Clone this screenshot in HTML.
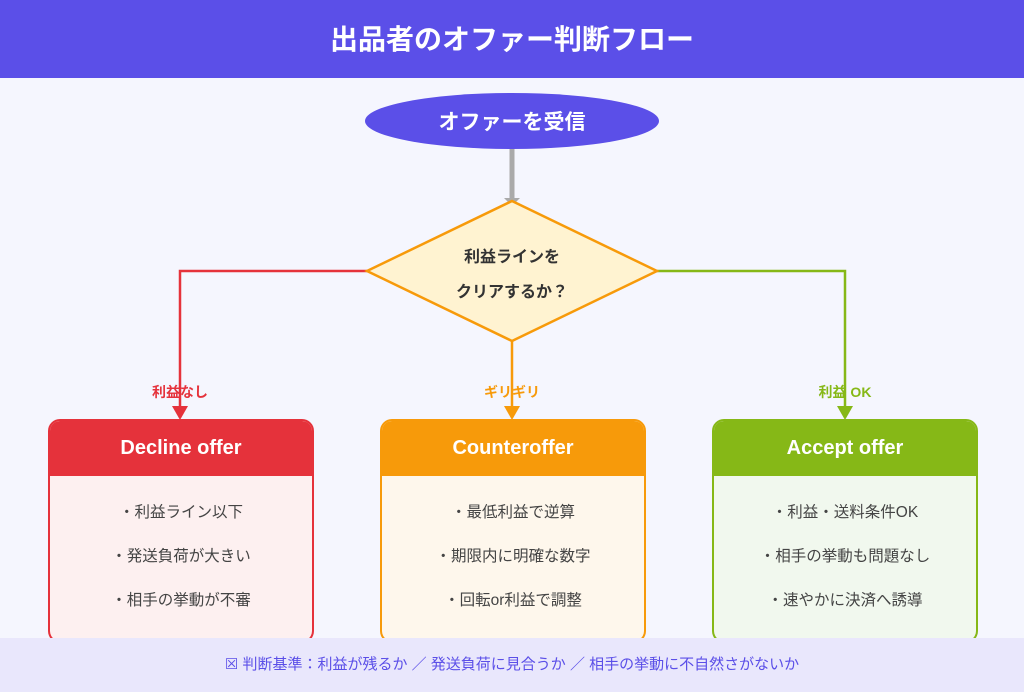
<!DOCTYPE html>
<html><head><meta charset="utf-8"><style>
body{margin:0;width:1024px;height:692px;overflow:hidden;background:#f5f6fe;font-family:"Liberation Sans","Noto Sans CJK JP",sans-serif;position:relative}
.hdr{position:absolute;left:0;top:0;width:1024px;height:78px;background:#5b4fe8;color:#fff;font-size:28px;font-weight:bold;text-align:center;line-height:80px}
.box{position:absolute;top:419px;width:266px;height:224px;border:2px solid;border-radius:12px;box-sizing:border-box;overflow:hidden}
.box .t{height:55px;color:#fff;font-size:20px;font-weight:bold;text-align:center;line-height:55px}
.box ul{list-style:none;margin:0;padding:22px 0 0;text-align:center;color:#444;font-size:15.5px}
.box li{height:44px;line-height:30px}
.ft{position:absolute;left:0;top:638px;width:1024px;height:54px;background:#e9e7fc;color:#5b4fe8;font-size:15px;text-align:center;line-height:54px}
.lb{position:absolute;top:382px;font-size:14px;font-weight:bold;width:100px;text-align:center}
svg{position:absolute;left:0;top:0}
</style></head><body>
<div class="hdr">出品者のオファー判断フロー</div>
<div class="lb" style="left:130px;color:#e5323b">利益なし</div>
<div class="lb" style="left:462px;color:#f79a0a">ギリギリ</div>
<div class="lb" style="left:795px;color:#86b817">利益 OK</div>
<svg width="1024" height="692">
<ellipse cx="512" cy="121" rx="147" ry="28" fill="#5b4fe8"/>
<text x="512" y="129" fill="#fff" font-size="21" font-weight="bold" text-anchor="middle" font-family="Liberation Sans,Noto Sans CJK JP,sans-serif">オファーを受信</text>
<line x1="512" y1="149" x2="512" y2="198" stroke="#aaa" stroke-width="5"/>
<polygon points="504,198 520,198 512,206" fill="#aaa"/>
<polyline points="367,271 180,271 180,408" fill="none" stroke="#e5323b" stroke-width="2.5"/>
<polygon points="172,406 188,406 180,420" fill="#e5323b"/>
<polyline points="657,271 845,271 845,408" fill="none" stroke="#86b817" stroke-width="2.5"/>
<polygon points="837,406 853,406 845,420" fill="#86b817"/>
<line x1="512" y1="340" x2="512" y2="408" stroke="#f79a0a" stroke-width="2.5"/>
<polygon points="504,406 520,406 512,420" fill="#f79a0a"/>
<polygon points="512,201 657,271 512,341 367,271" fill="#fff3d1" stroke="#f79a0a" stroke-width="2.5"/>
<text x="512" y="262" fill="#333" font-size="16" font-weight="bold" text-anchor="middle" font-family="Liberation Sans,Noto Sans CJK JP,sans-serif">利益ラインを</text>
<text x="512" y="297" fill="#333" font-size="16" font-weight="bold" text-anchor="middle" font-family="Liberation Sans,Noto Sans CJK JP,sans-serif">クリアするか？</text>
</svg>
<div class="box" style="left:48px;border-color:#e5323b;background:#fdf0f0"><div class="t" style="background:#e5323b">Decline offer</div><ul><li>・利益ライン以下</li><li>・発送負荷が大きい</li><li>・相手の挙動が不審</li></ul></div>
<div class="box" style="left:380px;border-color:#f79a0a;background:#fef7ec"><div class="t" style="background:#f79a0a">Counteroffer</div><ul><li>・最低利益で逆算</li><li>・期限内に明確な数字</li><li>・回転or利益で調整</li></ul></div>
<div class="box" style="left:712px;border-color:#86b817;background:#f1f8ee"><div class="t" style="background:#86b817">Accept offer</div><ul><li>・利益・送料条件OK</li><li>・相手の挙動も問題なし</li><li>・速やかに決済へ誘導</li></ul></div>
<div class="ft">☒ 判断基準：利益が残るか ／ 発送負荷に見合うか ／ 相手の挙動に不自然さがないか</div>
</body></html>
